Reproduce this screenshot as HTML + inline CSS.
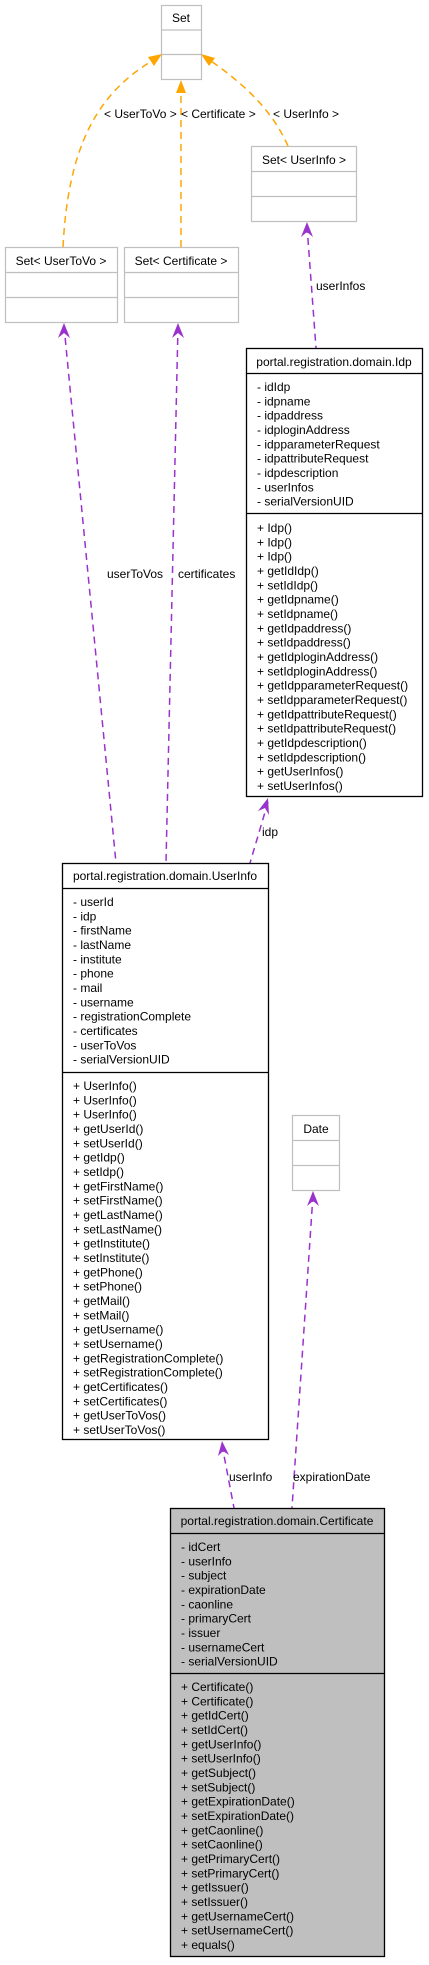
<!DOCTYPE html>
<html><head><meta charset="utf-8"><style>
html,body{margin:0;padding:0;background:#fff;}
svg{display:block;font-family:"Liberation Sans",Helvetica,Arial,sans-serif;font-size:12px;}
</style></head><body>
<svg width="429" height="1965" viewBox="0 0 429 1965" xmlns="http://www.w3.org/2000/svg">
<g fill="none" stroke="#bfbfbf" stroke-width="1.2">
<rect x="161.5" y="5.5" width="40" height="74"/><line x1="161.5" y1="30" x2="201.5" y2="30"/><line x1="161.5" y1="54.5" x2="201.5" y2="54.5"/>
<rect x="251.5" y="146.5" width="105" height="75"/><line x1="251.5" y1="171.5" x2="356.5" y2="171.5"/><line x1="251.5" y1="196.5" x2="356.5" y2="196.5"/>
<rect x="5.5" y="247.5" width="112" height="75"/><line x1="5.5" y1="272.5" x2="117.5" y2="272.5"/><line x1="5.5" y1="297.5" x2="117.5" y2="297.5"/>
<rect x="124.5" y="247.5" width="114" height="75"/><line x1="124.5" y1="272.5" x2="238.5" y2="272.5"/><line x1="124.5" y1="297.5" x2="238.5" y2="297.5"/>
<rect x="292.5" y="1115.5" width="47" height="75"/><line x1="292.5" y1="1140.5" x2="339.5" y2="1140.5"/><line x1="292.5" y1="1165.5" x2="339.5" y2="1165.5"/>
</g>
<g fill="#000" text-anchor="middle">
<text x="181" y="22">Set</text>
<text x="304" y="164">Set&lt; UserInfo &gt;</text>
<text x="61" y="265">Set&lt; UserToVo &gt;</text>
<text x="181" y="265">Set&lt; Certificate &gt;</text>
<text x="316" y="1133">Date</text>
</g>
<g fill="none" stroke="#FFA500" stroke-width="1.5" stroke-dasharray="7,5">
<path d="M63,247 C68,150 95,95 152,61"/>
<line x1="181" y1="247" x2="181" y2="93"/>
<path d="M288,146 C272,110 245,85 211,61"/>
</g>
<g fill="#FFA500">
<polygon points="162,54 148,57 154,66"/>
<polygon points="181,80 176,93 186,93"/>
<polygon points="201,54 209,66 215,58"/>
</g>
<g fill="#000">
<text x="104" y="118">&lt; UserToVo &gt;</text>
<text x="181" y="118">&lt; Certificate &gt;</text>
<text x="273" y="118">&lt; UserInfo &gt;</text>
</g>
<g fill="none" stroke="#9A32CD" stroke-width="1.5" stroke-dasharray="7,5">
<line x1="64" y1="326" x2="116" y2="863"/>
<line x1="178" y1="326" x2="166" y2="863"/>
<line x1="307" y1="226" x2="316" y2="348"/>
<line x1="268" y1="802" x2="250" y2="863"/>
<line x1="222" y1="1445" x2="234" y2="1508"/>
<line x1="313" y1="1195" x2="292" y2="1508"/>
</g>
<g fill="#9A32CD">
<polygon points="64,323 58,338 64,333 70,338"/>
<polygon points="178,323 172,338 178,333 184,338"/>
<polygon points="307,222 301,237 307,232 313,237"/>
<polygon points="268,798 258,811 265,808 269,815"/>
<polygon points="222,1441 218,1456 223,1451 229,1455"/>
<polygon points="313,1191 307,1206 313,1201 319,1206"/>
</g>
<g fill="#000">
<text x="107" y="578">userToVos</text>
<text x="178" y="578">certificates</text>
<text x="316" y="290">userInfos</text>
<text x="262" y="836">idp</text>
<text x="229" y="1481">userInfo</text>
<text x="293" y="1481">expirationDate</text>
</g>
<rect x="246.5" y="348.5" width="176" height="448" fill="#fff" stroke="#000" stroke-width="1.3"/>
<line x1="246.5" y1="373.5" x2="422.5" y2="373.5" stroke="#000" stroke-width="1.3"/>
<line x1="246.5" y1="513.5" x2="422.5" y2="513.5" stroke="#000" stroke-width="1.3"/>
<text x="334" y="366" text-anchor="middle">portal.registration.domain.Idp</text>
<g fill="#000">
<text x="257" y="391">- idIdp</text><text x="257" y="405.3">- idpname</text><text x="257" y="419.7">- idpaddress</text><text x="257" y="434">- idploginAddress</text><text x="257" y="448.3">- idpparameterRequest</text><text x="257" y="462.7">- idpattributeRequest</text><text x="257" y="477">- idpdescription</text><text x="257" y="491.3">- userInfos</text><text x="257" y="505.7">- serialVersionUID</text>
<text x="257" y="532">+ Idp()</text><text x="257" y="546.3">+ Idp()</text><text x="257" y="560.7">+ Idp()</text><text x="257" y="575">+ getIdIdp()</text><text x="257" y="589.3">+ setIdIdp()</text><text x="257" y="603.7">+ getIdpname()</text><text x="257" y="618">+ setIdpname()</text><text x="257" y="632.3">+ getIdpaddress()</text><text x="257" y="646.7">+ setIdpaddress()</text><text x="257" y="661">+ getIdploginAddress()</text><text x="257" y="675.3">+ setIdploginAddress()</text><text x="257" y="689.7">+ getIdpparameterRequest()</text><text x="257" y="704">+ setIdpparameterRequest()</text><text x="257" y="718.3">+ getIdpattributeRequest()</text><text x="257" y="732.7">+ setIdpattributeRequest()</text><text x="257" y="747">+ getIdpdescription()</text><text x="257" y="761.3">+ setIdpdescription()</text><text x="257" y="775.7">+ getUserInfos()</text><text x="257" y="790">+ setUserInfos()</text>
</g>
<rect x="62.5" y="863.5" width="206" height="576" fill="#fff" stroke="#000" stroke-width="1.3"/>
<line x1="62.5" y1="888.5" x2="268.5" y2="888.5" stroke="#000" stroke-width="1.3"/>
<line x1="62.5" y1="1072.5" x2="268.5" y2="1072.5" stroke="#000" stroke-width="1.3"/>
<text x="165" y="880" text-anchor="middle">portal.registration.domain.UserInfo</text>
<g fill="#000">
<text x="73" y="906">- userId</text><text x="73" y="920.3">- idp</text><text x="73" y="934.7">- firstName</text><text x="73" y="949">- lastName</text><text x="73" y="963.3">- institute</text><text x="73" y="977.7">- phone</text><text x="73" y="992">- mail</text><text x="73" y="1006.3">- username</text><text x="73" y="1020.7">- registrationComplete</text><text x="73" y="1035">- certificates</text><text x="73" y="1049.3">- userToVos</text><text x="73" y="1063.7">- serialVersionUID</text>
<text x="73" y="1090">+ UserInfo()</text><text x="73" y="1104.3">+ UserInfo()</text><text x="73" y="1118.7">+ UserInfo()</text><text x="73" y="1133">+ getUserId()</text><text x="73" y="1147.3">+ setUserId()</text><text x="73" y="1161.7">+ getIdp()</text><text x="73" y="1176">+ setIdp()</text><text x="73" y="1190.3">+ getFirstName()</text><text x="73" y="1204.7">+ setFirstName()</text><text x="73" y="1219">+ getLastName()</text><text x="73" y="1233.3">+ setLastName()</text><text x="73" y="1247.7">+ getInstitute()</text><text x="73" y="1262">+ setInstitute()</text><text x="73" y="1276.3">+ getPhone()</text><text x="73" y="1290.7">+ setPhone()</text><text x="73" y="1305">+ getMail()</text><text x="73" y="1319.3">+ setMail()</text><text x="73" y="1333.7">+ getUsername()</text><text x="73" y="1348">+ setUsername()</text><text x="73" y="1362.3">+ getRegistrationComplete()</text><text x="73" y="1376.7">+ setRegistrationComplete()</text><text x="73" y="1391">+ getCertificates()</text><text x="73" y="1405.3">+ setCertificates()</text><text x="73" y="1419.7">+ getUserToVos()</text><text x="73" y="1434">+ setUserToVos()</text>
</g>
<rect x="170.5" y="1508.5" width="214" height="448" fill="#bfbfbf" stroke="#000" stroke-width="1.3"/>
<line x1="170.5" y1="1533.5" x2="384.5" y2="1533.5" stroke="#000" stroke-width="1.3"/>
<line x1="170.5" y1="1673.5" x2="384.5" y2="1673.5" stroke="#000" stroke-width="1.3"/>
<text x="277" y="1525" text-anchor="middle">portal.registration.domain.Certificate</text>
<g fill="#000">
<text x="181" y="1551">- idCert</text><text x="181" y="1565.3">- userInfo</text><text x="181" y="1579.7">- subject</text><text x="181" y="1594">- expirationDate</text><text x="181" y="1608.3">- caonline</text><text x="181" y="1622.7">- primaryCert</text><text x="181" y="1637">- issuer</text><text x="181" y="1651.3">- usernameCert</text><text x="181" y="1665.7">- serialVersionUID</text>
<text x="181" y="1691">+ Certificate()</text><text x="181" y="1705.3">+ Certificate()</text><text x="181" y="1719.7">+ getIdCert()</text><text x="181" y="1734">+ setIdCert()</text><text x="181" y="1748.3">+ getUserInfo()</text><text x="181" y="1762.7">+ setUserInfo()</text><text x="181" y="1777">+ getSubject()</text><text x="181" y="1791.3">+ setSubject()</text><text x="181" y="1805.7">+ getExpirationDate()</text><text x="181" y="1820">+ setExpirationDate()</text><text x="181" y="1834.3">+ getCaonline()</text><text x="181" y="1848.7">+ setCaonline()</text><text x="181" y="1863">+ getPrimaryCert()</text><text x="181" y="1877.3">+ setPrimaryCert()</text><text x="181" y="1891.7">+ getIssuer()</text><text x="181" y="1906">+ setIssuer()</text><text x="181" y="1920.3">+ getUsernameCert()</text><text x="181" y="1934.7">+ setUsernameCert()</text><text x="181" y="1949">+ equals()</text>
</g>
</svg>
</body></html>
